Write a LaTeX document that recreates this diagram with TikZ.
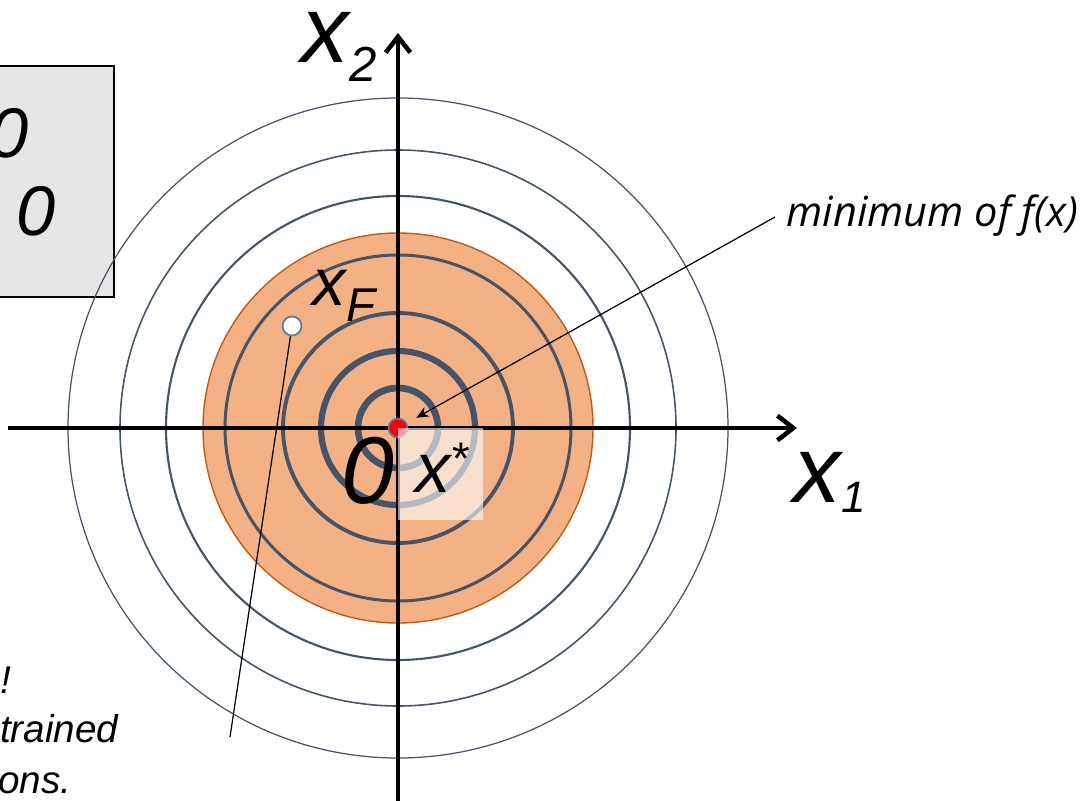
\documentclass[tikz,border=0pt]{standalone}
\usepackage{fontspec}
\setmainfont{Liberation Sans}
\newfontfamily\notefont{Open Sans}
\usepackage{graphicx}
\usetikzlibrary{positioning}
\usetikzlibrary{arrows.meta}
\definecolor{contour}{HTML}{44546A}
\definecolor{feasible}{HTML}{F4B183}
\definecolor{feasedge}{HTML}{C55A11}
\definecolor{boxgray}{HTML}{E7E6E6}
\definecolor{dotedge}{HTML}{5B7BA8}
% size, subscript
\newcommand{\fs}[1]{\fontsize{#1}{#1}\selectfont\itshape}
\newcommand{\lowidx}[3]{\raisebox{-#2}{\fs{#1}#3}}

\begin{document}
\begin{tikzpicture}[x=0.01cm,y=-0.01cm,
  axis/.style={line width=1.3pt,-{Straight Barb[length=4.5pt,width=7pt,line width=1.3pt]}},
  level/.style={draw=contour},
  pointer/.style={line width=0.35pt,-{Stealth[length=3.5pt,width=3pt]}},
  dot/.style={circle,draw=dotedge,line width=0.5pt,minimum size=5.4pt,inner sep=0pt},
  lbl/.style={inner sep=0pt,anchor=base west}
]
\useasboundingbox (0,0) rectangle (1085,800);

% constraint box (cut off)
\draw[fill=boxgray,line width=0.7pt] (-30,66) rectangle (114,297);
\node[lbl,anchor=base east] (boxa) at (29,157) {\fs{20}0};
\node[lbl,anchor=base east] (boxb) at (56,235) {\fs{20}0};

% feasible set and level sets
\fill[feasible,draw=feasedge,line width=0.4pt] (398,428) circle (195);
\foreach \r/\w in {330/0.35,278/0.45,232/0.6,173/0.85,115/1.1,77/1.75,40/1.9}
  \draw[level,line width=\w pt] (398,428) circle (\r);

% axes
\draw[axis] (8,428) -- (797,428);
\draw[axis] (398,805) -- (398,33);
\node[lbl] (xone) at (793,502) {\fs{27}x\lowidx{12.5}{2.9pt}{1}};
\node[lbl] (xtwo) at (301,62) {\fs{27}x\lowidx{14}{5.5pt}{2}};

% points
\node[dot,fill=red] (xstar) at (398,428) {};
\node[dot,fill=white] (xf) at (292,326) {};
\fill[white,opacity=0.6] (398,428) rectangle (483,520);

\node[lbl] (orig) at (341,503) {\fs{27}0};
\node[lbl] (xs) at (415,492) {\fs{20}x\raisebox{5pt}{\fs{13}*}};
\node[lbl] (xflbl) at (312,305) {\fs{19}x\lowidx{13.5}{4.8pt}{F}};

% annotations
\node[lbl] (minlbl) at (786,226) {\notefont\fs{11.8}minimum of f(x)};
\draw[pointer,shorten >=3pt] (775,217) -- (xstar);
\coordinate (noteend) at (230,737);
\draw[line width=0.35pt] (xf) -- (noteend);
\node[lbl,anchor=base east] (noteA) at (12,693) {\fs{11}e!};
\node[lbl,anchor=base east] (noteB) at (119,742) {\fs{11}strained};
\node[lbl,anchor=base east] (noteC) at (72,793) {\fs{11}ons.};
\end{tikzpicture}
\end{document}
